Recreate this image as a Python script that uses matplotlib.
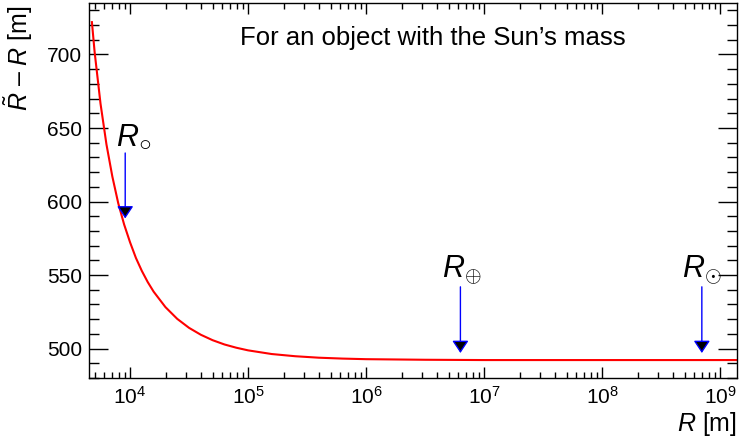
import matplotlib
matplotlib.use("Agg")
import matplotlib.pyplot as plt
from matplotlib.ticker import LogLocator, NullFormatter, MultipleLocator

plt.rcParams['font.family'] = ['Liberation Sans', 'DejaVu Sans']
plt.rcParams['mathtext.fontset'] = 'custom'
plt.rcParams['mathtext.rm'] = 'Liberation Sans'
plt.rcParams['mathtext.it'] = 'Liberation Sans:italic'
plt.rcParams['mathtext.bf'] = 'Liberation Sans:bold'

# curve: R [m] and (R~ - R) [m]
radius = [4.75e3, 4.79e3, 5.01e3, 5.62e3, 6.31e3, 7.08e3, 7.94e3, 8.91e3,
          1.0e4, 1.122e4, 1.259e4, 1.413e4, 1.585e4, 1.995e4, 2.512e4,
          3.162e4, 3.981e4, 5.012e4, 6.31e4, 7.943e4, 1.0e5, 1.585e5,
          2.512e5, 3.981e5, 6.31e5, 1.0e6, 3.162e6, 1.0e7, 1.39e9]
delta = [722.0, 719.0, 701.7, 666.6, 638.9, 617.0, 598.9, 584.4,
         572.3, 561.6, 552.8, 545.2, 538.7, 528.2, 520.2,
         514.1, 509.4, 505.7, 502.8, 500.6, 498.8, 496.3,
         494.8, 493.8, 493.2, 492.8, 492.4, 492.2, 492.2]

# marked objects
obj_names = [r'$R_{\bigcirc}$', r'$R_{\oplus}$', r'$R_{\odot}$']
obj_radius = [9.1e3, 6.3e6, 7.0e8]
arrow_top = [633, 542, 542]
arrow_tip = [588.5, 497, 497]

fig = plt.figure(figsize=(7.4, 4.41), dpi=100)
ax = fig.add_axes([89 / 740, 1 - 378 / 441, (737 - 89) / 740, (378 - 3) / 441])

ax.plot(radius, delta, color='#ff0000', lw=1.5)

offsets = [(6, 6), (1, 7), (0, 7)]
for name, xr, yt, yb, off in zip(obj_names, obj_radius, arrow_top, arrow_tip, offsets):
    ax.annotate('', xy=(xr, yb), xytext=(xr, yt),
                arrowprops=dict(arrowstyle='-|>,head_length=0.75,head_width=0.5',
                                fc='black', ec='blue', lw=1, mutation_scale=10,
                                shrinkA=0, shrinkB=0))
    ax.annotate(name, xy=(xr, yt), xytext=off, textcoords='offset points',
                ha='center', va='baseline', fontsize=22)

ax.text(0.53, 0.888, 'For an object with the Sun\u2019s mass', transform=ax.transAxes,
        ha='center', va='baseline', fontsize=18.5)

ax.set_xscale('log')
ax.set_xlim(4.49e3, 1.39e9)
ax.set_ylim(480, 735)

ax.xaxis.set_major_locator(LogLocator(base=10, numticks=20))
ax.xaxis.set_minor_locator(LogLocator(base=10, subs=range(2, 10), numticks=20))
ax.xaxis.set_minor_formatter(NullFormatter())
ax.yaxis.set_major_locator(MultipleLocator(50))
ax.yaxis.set_minor_locator(MultipleLocator(10))

ax.tick_params(axis='both', which='both', direction='in', top=True, right=True,
               labelsize=15, width=1, color='black')
ax.tick_params(axis='x', which='major', length=8.1, pad=6)
ax.tick_params(axis='x', which='minor', length=4.0)
ax.tick_params(axis='y', which='major', length=14, pad=5)
ax.tick_params(axis='y', which='minor', length=7)

for sp in ax.spines.values():
    sp.set_linewidth(1)

ax.set_xlabel(r'$R$ [m]', fontsize=18, loc='right')
ax.xaxis.set_label_coords(1.0, -0.085)
ax.set_ylabel('$\\tilde{R}$ \u2013 $R$ [m]', fontsize=18, loc='top')
ax.yaxis.set_label_coords(-0.083, 0.995)

fig.savefig('out.png', dpi=100)
